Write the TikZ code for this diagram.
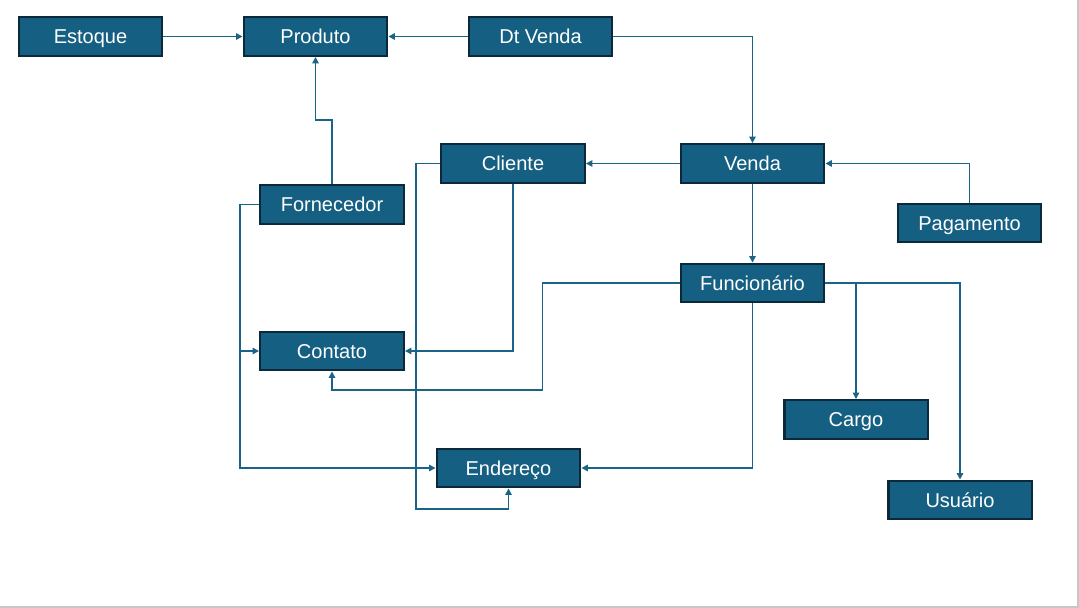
\documentclass[tikz,border=0pt]{standalone}
\usepackage{fontspec}
\setmainfont{Liberation Sans}
\usetikzlibrary{arrows.meta}

\definecolor{boxfill}{HTML}{156082}
\definecolor{boxline}{HTML}{0A2A3C}
\definecolor{linkcol}{HTML}{1A6488}

\begin{document}
\begin{tikzpicture}[x=0.02cm,y=-0.02cm,>={Triangle[length=3.6pt,width=3.6pt]},
        entity/.style={draw=boxline, line width=1.4pt, rectangle, fill=boxfill, text=white,
                       minimum width=2.87cm, minimum height=0.77cm, inner sep=0pt,
                       text height=10pt, text depth=1.6pt,
                       font=\fontsize{11.4}{13}\selectfont},
        link/.style={->, draw=linkcol, line width=0.85pt}]
        \useasboundingbox (0,0) rectangle (1079,608);
        \draw[black!22, line width=1.2pt] (0,607.2) -- (1078,607.2) -- (1078,0);

        \node (estoque) [entity] at (90.5,36.5) {Estoque};
        \node (produto) [entity] at (315.5,36.5) {Produto};
        \node (dtvenda) [entity] at (540.5,36.5) {Dt Venda};
        \node (cliente) [entity] at (513,163.5) {Cliente};
        \node (venda) [entity] at (752.5,163.5) {Venda};
        \node (fornecedor) [entity] at (332,204.5) {Fornecedor};
        \node (pagamento) [entity] at (969.5,223) {Pagamento};
        \node (funcionario) [entity] at (752.5,283) {Funcionário};
        \node (contato) [entity] at (332,351) {Contato};
        \node (cargo) [entity] at (856,419.5) {Cargo};
        \node (endereco) [entity] at (508.5,468) {Endereço};
        \node (usuario) [entity] at (960,500) {Usuário};

        \draw[link] (estoque) -- (produto);
        \draw[link] (dtvenda) -- (produto);
        \draw[link] (dtvenda.east) -| (venda.north);
        \draw[link] (fornecedor.north) -- ++(0,-64) -| (produto.south);
        \draw[link] (venda) -- (cliente);
        \draw[link] (pagamento.north) |- (venda.east);
        \draw[link] (venda) -- (funcionario);
        \draw[link] (cliente.south) |- (contato.east);
        \draw[link] (cliente.west) -- ++(-24,0) -- ++(0,345.5) -| (endereco.south);
        \draw[link] (fornecedor.west) -- ++(-19,0) |- (contato.west);
        \draw[link] (fornecedor.west) -- ++(-19,0) |- (endereco.west);
        \draw[link] (funcionario.west) -- ++(-137,0) -- ++(0,107) -| (contato.south);
        \draw[link] (funcionario.south) |- (endereco.east);
        \draw[link] (funcionario.east) -| (cargo.north);
        \draw[link] (funcionario.east) -| (usuario.north);
    \end{tikzpicture}
\end{document}
